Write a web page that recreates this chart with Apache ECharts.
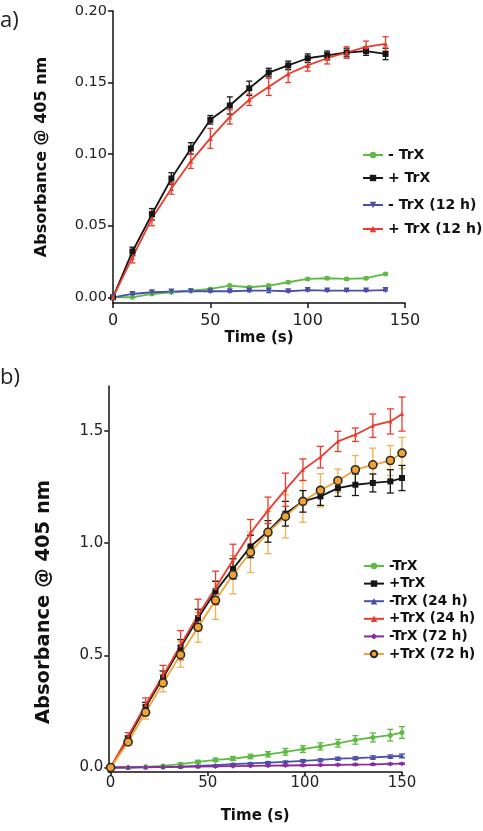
<!DOCTYPE html>
<html><head><meta charset="utf-8">
<script src="https://cdn.jsdelivr.net/npm/echarts@6/dist/echarts.min.js"></script>
<style>html,body{margin:0;padding:0;background:#fff}#c{width:483px;height:831px}</style>
</head><body><div id="c"></div><script>
// ---------- Panel a data ----------
const timeA = [0,10,20,30,40,50,60,70,80,90,100,110,120,130,140];
const aMinusTrX   = [0,0,0.0023,0.0035,0.0047,0.0058,0.0082,0.0070,0.0082,0.0105,0.0128,0.0133,0.0128,0.0133,0.0163];
const aPlusTrX    = [0,0.032,0.058,0.083,0.104,0.124,0.134,0.146,0.157,0.162,0.167,0.169,0.171,0.172,0.170];
const aMinus12    = [0,0.0023,0.0035,0.0040,0.0042,0.0042,0.0042,0.0047,0.0047,0.0042,0.0050,0.0047,0.0047,0.0047,0.0050];
const aPlus12     = [0,0.028,0.055,0.076,0.095,0.111,0.126,0.138,0.147,0.156,0.162,0.167,0.171,0.175,0.177];
const aMinusTrXErr= [0,0.0006,0.0006,0.0006,0.0006,0.0006,0.0008,0.0006,0.0008,0.0008,0.0008,0.0008,0.0008,0.0008,0.0008];
const aPlusTrXErr = [0,0.003,0.004,0.004,0.004,0.003,0.006,0.005,0.003,0.003,0.003,0.003,0.003,0.003,0.004];
const aMinus12Err = [0,0.0006,0.0006,0.0006,0.0006,0.0006,0.0006,0.0008,0.0015,0.0006,0.0006,0.0006,0.0006,0.0006,0.0006];
const aPlus12Err  = [0,0.004,0.005,0.004,0.005,0.007,0.005,0.004,0.006,0.006,0.004,0.004,0.004,0.004,0.005];
const aYTicks = [0,0.05,0.10,0.15,0.20];
const aXTicks = [0,50,100,150];

// ---------- Panel b data ----------
const timeB = [0,9,18,27,36,45,54,63,72,81,90,99,108,117,126,135,144,150];
const bMinusTrX = [0,0,0.003,0.007,0.015,0.025,0.034,0.040,0.049,0.059,0.070,0.082,0.094,0.108,0.123,0.134,0.144,0.156];
const bPlusTrX  = [0,0.13,0.27,0.40,0.535,0.665,0.785,0.885,0.985,1.052,1.131,1.186,1.208,1.245,1.260,1.268,1.275,1.290];
const bMinus24  = [0,0.001,0.002,0.003,0.004,0.007,0.010,0.015,0.018,0.022,0.025,0.030,0.034,0.040,0.042,0.045,0.049,0.052];
const bPlus24   = [0,0.14,0.28,0.41,0.545,0.68,0.80,0.925,1.045,1.146,1.238,1.327,1.383,1.453,1.483,1.523,1.542,1.575];
const bMinus72  = [0,0,0.001,0.002,0.003,0.004,0.005,0.006,0.007,0.008,0.009,0.010,0.011,0.012,0.013,0.014,0.016,0.017];
const bPlus72   = [0,0.114,0.246,0.377,0.503,0.625,0.745,0.859,0.959,1.048,1.119,1.186,1.235,1.278,1.327,1.349,1.368,1.401];
const bMinusTrXErr = [0,0,0.002,0.003,0.005,0.007,0.008,0.009,0.010,0.012,0.015,0.015,0.016,0.017,0.019,0.020,0.026,0.026];
const bPlusTrXErr  = [0,0.010,0.020,0.030,0.035,0.040,0.045,0.045,0.050,0.048,0.055,0.048,0.040,0.037,0.048,0.040,0.052,0.056];
const bMinus24Err  = [0,0,0,0.001,0.001,0.002,0.002,0.003,0.003,0.004,0.004,0.005,0.005,0.006,0.006,0.007,0.007,0.008];
const bPlus24Err   = [0,0.015,0.030,0.045,0.065,0.070,0.075,0.070,0.060,0.059,0.074,0.048,0.048,0.045,0.030,0.052,0.056,0.076];
const bMinus72Err  = [0,0,0,0,0.001,0.001,0.001,0.002,0.002,0.002,0.002,0.003,0.003,0.003,0.003,0.003,0.003,0.003];
const bPlus72Err   = [0,0.015,0.030,0.040,0.056,0.067,0.085,0.085,0.090,0.095,0.096,0.093,0.074,0.052,0.063,0.074,0.067,0.070];
const bYTicks = [0,0.5,1.0,1.5];
const bXTicks = [0,50,100,150];

const C = {green:'#5dba44', black:'#161616', blue:'#4b4fab', red:'#ec3a2c', purple:'#8b2b9b', orange:'#f2a232', orangeErr:'#f4b04e'};
const FONT = 'DejaVu Sans';

function pairs(t, v) { return t.map((x, i) => [x, v[i]]); }
function errData(t, v, e) { return t.map((x, i) => [x, v[i] - e[i], v[i] + e[i]]); }
function errBar(color, cap, lw) {
  return function (params, api) {
    const x = api.value(0), lo = api.value(1), hi = api.value(2);
    if (!(hi - lo > 0)) return null;
    const a = api.coord([x, lo]), b = api.coord([x, hi]);
    const st = {stroke: color, lineWidth: lw, fill: null};
    return {type: 'group', children: [
      {type: 'line', shape: {x1: a[0], y1: a[1], x2: b[0], y2: b[1]}, style: st},
      {type: 'line', shape: {x1: a[0] - cap, y1: a[1], x2: a[0] + cap, y2: a[1]}, style: st},
      {type: 'line', shape: {x1: b[0] - cap, y1: b[1], x2: b[0] + cap, y2: b[1]}, style: st}
    ]};
  };
}
function errSeries(idx, t, v, e, color, cap) {
  return {type: 'custom', xAxisIndex: idx, yAxisIndex: idx, silent: true,
    renderItem: errBar(color, cap, 1.3), encode: {x: 0, y: [1, 2]}, data: errData(t, v, e), z: 1};
}
function lineSeries(idx, name, t, v, color, symbol, size, extra) {
  return Object.assign({type: 'line', name: name, xAxisIndex: idx, yAxisIndex: idx,
    data: pairs(t, v), symbol: symbol, symbolSize: size, showSymbol: true,
    lineStyle: {color: color, width: 1.8}, itemStyle: {color: color}, z: 3, animation: false}, extra || {});
}
const axisLineStyle = {show: true, onZero: false, lineStyle: {color: '#111', width: 1.5}};
const tickStyle = (vals, len) => ({show: true, length: len, customValues: vals, lineStyle: {color: '#111', width: 1.5}});

const option = {
  animation: false,
  backgroundColor: '#fff',
  grid: [
    {left: 113, top: 11, width: 292, height: 292, outerBoundsMode: 'none', containLabel: false},
    {left: 108.3, top: 386, width: 293.7, height: 386, outerBoundsMode: 'none', containLabel: false}
  ],
  xAxis: [
    {gridIndex: 0, type: 'value', min: 0, max: 150, interval: 50,
      axisLine: axisLineStyle, axisTick: tickStyle(aXTicks, 5), splitLine: {show: false},
      axisLabel: {customValues: aXTicks, color: '#222', fontSize: 16, fontFamily: FONT, margin: 10},
      name: 'Time (s)', nameLocation: 'middle', nameGap: 28,
      nameTextStyle: {fontFamily: FONT, fontWeight: 'bold', fontSize: 15, color: '#111'}},
    {gridIndex: 1, type: 'value', min: -1.2, max: 150,
      axisLine: axisLineStyle, axisTick: tickStyle(bXTicks, 4), splitLine: {show: false},
      axisLabel: {customValues: bXTicks, color: '#222', fontSize: 15, fontFamily: FONT, margin: 4},
      name: 'Time (s)', nameLocation: 'middle', nameGap: 37,
      nameTextStyle: {fontFamily: FONT, fontWeight: 'bold', fontSize: 15, color: '#111'}}
  ],
  yAxis: [
    {gridIndex: 0, type: 'value', min: -0.004, max: 0.2,
      axisLine: axisLineStyle, axisTick: tickStyle(aYTicks, 5), splitLine: {show: false},
      axisLabel: {customValues: aYTicks, formatter: v => v.toFixed(2), color: '#222', fontSize: 14.5, fontFamily: FONT, margin: 6},
      name: 'Absorbance @ 405 nm', nameLocation: 'middle', nameGap: 63, nameRotate: 90,
      nameTextStyle: {fontFamily: FONT, fontWeight: 'bold', fontSize: 16, color: '#111'}},
    {gridIndex: 1, type: 'value', min: -0.02, max: 1.7,
      axisLine: axisLineStyle, axisTick: tickStyle(bYTicks, 4), splitLine: {show: false},
      axisLabel: {customValues: bYTicks, formatter: v => v.toFixed(1), color: '#222', fontSize: 15, fontFamily: FONT, margin: 5},
      name: 'Absorbance @ 405 nm', nameLocation: 'middle', nameGap: 54, nameRotate: 90,
      nameTextStyle: {fontFamily: FONT, fontWeight: 'bold', fontSize: 19.5, color: '#111', padding: [0, 46, 0, 0]}}
  ],
  legend: [
    {data: ['- TrX', '+ TrX'], orient: 'vertical', left: 362, top: 147, padding: 0,
      itemWidth: 20, itemHeight: 8, itemGap: 7,
      textStyle: {fontFamily: FONT, fontWeight: 'bold', fontSize: 14, color: '#111', lineHeight: 16}},
    {data: ['- TrX (12 h)', '+ TrX (12 h)'], orient: 'vertical', left: 362, top: 197, padding: 0,
      itemWidth: 20, itemHeight: 8, itemGap: 8,
      textStyle: {fontFamily: FONT, fontWeight: 'bold', fontSize: 14, color: '#111', lineHeight: 16}},
    {data: ['-TrX', '+TrX', '-TrX (24 h)', '+TrX (24 h)', '-TrX (72 h)', '+TrX (72 h)'], orient: 'vertical',
      left: 363, top: 558, padding: 0, itemWidth: 20, itemHeight: 8, itemGap: 1.6,
      textStyle: {fontFamily: FONT, fontWeight: 'bold', fontSize: 13.5, color: '#111', lineHeight: 16}}
  ],
  graphic: [
    {type: 'text', left: 0, top: 10, style: {text: 'a)', font: '22px "Open Sans"', fill: '#222'}},
    {type: 'text', left: 0, top: 367, style: {text: 'b)', font: '22px "Open Sans"', fill: '#222'}}
  ],
  series: [
    // panel a error bars
    errSeries(0, timeA, aMinusTrX, aMinusTrXErr, C.green, 2.5),
    errSeries(0, timeA, aMinus12, aMinus12Err, C.blue, 2.5),
    errSeries(0, timeA, aPlusTrX, aPlusTrXErr, C.black, 3),
    errSeries(0, timeA, aPlus12, aPlus12Err, C.red, 3),
    // panel a lines
    lineSeries(0, '- TrX', timeA, aMinusTrX, C.green, 'circle', 5),
    lineSeries(0, '+ TrX', timeA, aPlusTrX, C.black, 'rect', 6),
    lineSeries(0, '- TrX (12 h)', timeA, aMinus12, C.blue, 'triangle', 6, {symbolRotate: 180}),
    lineSeries(0, '+ TrX (12 h)', timeA, aPlus12, C.red, 'triangle', 5),
    // panel b error bars
    errSeries(1, timeB, bMinusTrX, bMinusTrXErr, C.green, 3),
    errSeries(1, timeB, bMinus24, bMinus24Err, C.blue, 3),
    errSeries(1, timeB, bMinus72, bMinus72Err, C.purple, 3),
    errSeries(1, timeB, bPlus72, bPlus72Err, C.orangeErr, 3.5),
    errSeries(1, timeB, bPlusTrX, bPlusTrXErr, C.black, 3.5),
    errSeries(1, timeB, bPlus24, bPlus24Err, C.red, 3.5),
    // panel b lines
    lineSeries(1, '-TrX', timeB, bMinusTrX, C.green, 'circle', 5),
    lineSeries(1, '+TrX', timeB, bPlusTrX, C.black, 'rect', 6),
    lineSeries(1, '-TrX (24 h)', timeB, bMinus24, C.blue, 'triangle', 5),
    lineSeries(1, '+TrX (24 h)', timeB, bPlus24, C.red, 'triangle', 4),
    lineSeries(1, '-TrX (72 h)', timeB, bMinus72, C.purple, 'diamond', 5),
    lineSeries(1, '+TrX (72 h)', timeB, bPlus72, C.orange, 'circle', 8,
      {itemStyle: {color: C.orange, borderColor: '#2a2a2a', borderWidth: 1.6}})
  ]
};
const chart = echarts.init(document.getElementById('c'), null, {renderer: 'canvas'});
chart.setOption(option);
</script></body></html>
